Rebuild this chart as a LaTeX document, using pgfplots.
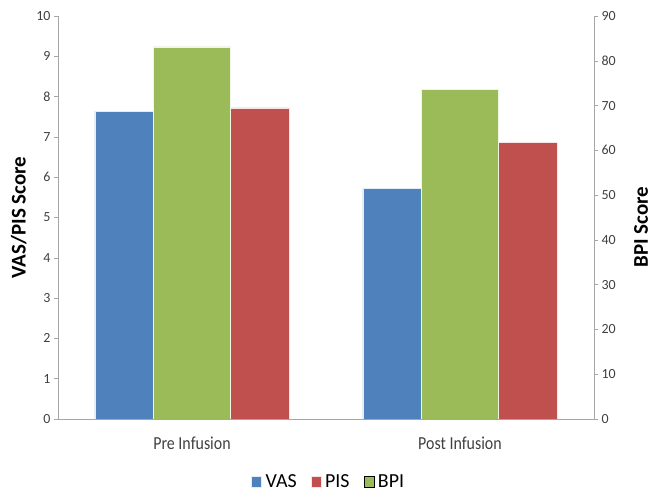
\documentclass[border=0pt]{standalone}
\usepackage{pgfplots}
\pgfplotsset{compat=1.18}
\usepackage{fontspec}
\setmainfont{Carlito}
\definecolor{vasblue}{HTML}{4F81BD}
\definecolor{pisred}{HTML}{C0504D}
\definecolor{bpigreen}{HTML}{9BBB59}
\definecolor{axgray}{HTML}{A6A6A6}
\definecolor{txtgray}{HTML}{404040}
\begin{document}
\begin{tikzpicture}[x=1bp,y=1bp]
  \path[use as bounding box] (-58,-76) rectangle (597,403+16);
  \pgfplotsset{
    common/.style={
      scale only axis, width=536bp, height=403bp,
      at={(0,0)}, anchor=south west,
      xmin=-0.5, xmax=1.5, ymin=0,
      axis line style={axgray},
      tick style={axgray, thin},
      tick align=outside, major tick length=4bp,
      /pgf/number format/assume math mode=true,
      ticklabel style={font=\fontsize{14}{16}\selectfont, text=txtgray},
      label style={font=\fontsize{21}{23}\selectfont\bfseries, text=black},
    }
  }
  \begin{axis}[common,
      ymax=10, ytick={0,1,...,10},
      axis y line*=left, axis x line*=bottom,
      xtick={0,1}, xticklabels={Pre Infusion, Post Infusion},
      xtick style={draw=none},
      extra x ticks={-0.5,0.5,1.5}, extra x tick labels={},
      extra x tick style={tick style={axgray, thin}, major tick length=4bp},
      xticklabel style={font=\fontsize{16}{18}\selectfont, yscale=1.15, anchor=center, yshift=-18bp},
      ylabel={VAS/PIS Score},
      ylabel style={at={(axis description cs:-0.073,0.5)}, anchor=center},
      legend style={at={(0.505,-0.156)}, anchor=center, draw=none,
        legend columns=3, font=\fontsize{20}{22}\selectfont, text=black,
        inner sep=0pt,
        /tikz/every odd column/.append style={column sep=2bp},
        /tikz/every even column/.append style={column sep=12bp}},
      legend image code/.code={\fill[#1] (0bp,-5.5bp) rectangle (10bp,5.5bp);},
    ]
    \addplot[ybar, bar width=0.217, bar shift=-0.254, fill=vasblue, draw=white!85!vasblue]
      coordinates {(0,7.64) (1,5.73)};
    \addlegendentry{VAS}
    \addplot[ybar, bar width=0.22, bar shift=0.252, fill=pisred, draw=white!85!pisred]
      coordinates {(0,7.72) (1,6.86)};
    \addlegendentry{PIS}
    \addlegendimage{fill=bpigreen}
    \addlegendentry{BPI}
  \end{axis}
  \begin{axis}[common,
      ymax=90, ytick={0,10,...,90},
      axis y line*=right, axis x line=none,
      ylabel={BPI Score},
      ylabel style={at={(axis description cs:1.088,0.476)}, anchor=center},
    ]
    \addplot[ybar, bar width=0.288, bar shift=0, fill=bpigreen, draw=white!85!bpigreen]
      coordinates {(0,83.1) (1,73.6)};
  \end{axis}
\end{tikzpicture}
\end{document}
